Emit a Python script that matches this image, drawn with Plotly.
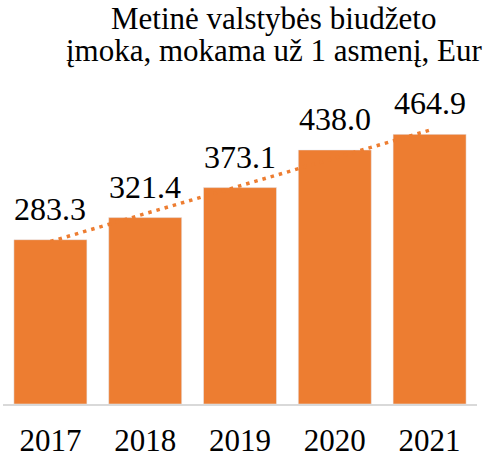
import numpy as np
import plotly.graph_objects as go

years = ["2017", "2018", "2019", "2020", "2021"]
values = [283.3, 321.4, 373.1, 438.0, 464.9]
labels = ["283.3", "321.4", "373.1", "438.0", "464.9"]
title_lines = ["Metinė valstybės biudžeto", "įmoka, mokama už 1 asmenį, Eur"]

BAR = "#ED7D31"
FONT = "Liberation Serif"

# linear trendline computed from the data
xi = list(range(len(values)))
slope, intercept = np.polyfit(xi, values, 1)
trend = [float(slope * i + intercept) for i in xi]

W, H = 493, 458
ML, MR, MT, MB = 3, 16, 114, 54
PH = H - MT - MB


def py(p):
    return (H - MB - p) / PH


fig = go.Figure()
fig.add_trace(go.Bar(x=xi, y=values, marker=dict(color=BAR), hoverinfo="skip"))
fig.add_trace(go.Scatter(x=xi, y=trend, mode="lines",
                         line=dict(color=BAR, width=3.5, dash="3.5px,5px"), hoverinfo="skip"))

for i, v, t in zip(xi, values, labels):
    fig.add_annotation(x=i, y=v, text=t, showarrow=False, yanchor="bottom",
                       yshift=11, font=dict(family=FONT, size=32, color="#000000"))

for line, pix in zip(title_lines, [19, 50]):
    fig.add_annotation(xref="paper", yref="paper", x=0.571, y=py(pix), text=line,
                       showarrow=False, xanchor="center", yanchor="middle",
                       font=dict(family=FONT, size=31, color="#000000"))

fig.update_layout(
    width=W, height=H,
    margin=dict(l=ML, r=MR, t=MT, b=MB),
    paper_bgcolor="white", plot_bgcolor="white",
    showlegend=False, bargap=0.23,
    xaxis=dict(range=[-0.5, len(values) - 0.5], tickmode="array", tickvals=xi, ticktext=years,
               showline=True, linecolor="#D9D9D9", linewidth=2, automargin=False,
               showgrid=False, ticks="outside", ticklen=8, tickcolor="rgba(0,0,0,0)",
               tickfont=dict(family=FONT, size=31, color="#000000"), zeroline=False),
    yaxis=dict(range=[0, 500], visible=False, showgrid=False, zeroline=False,
               automargin=False),
)

fig.write_html("out.html", config={"displayModeBar": False},
               post_script="document.body.style.margin='0px';")
